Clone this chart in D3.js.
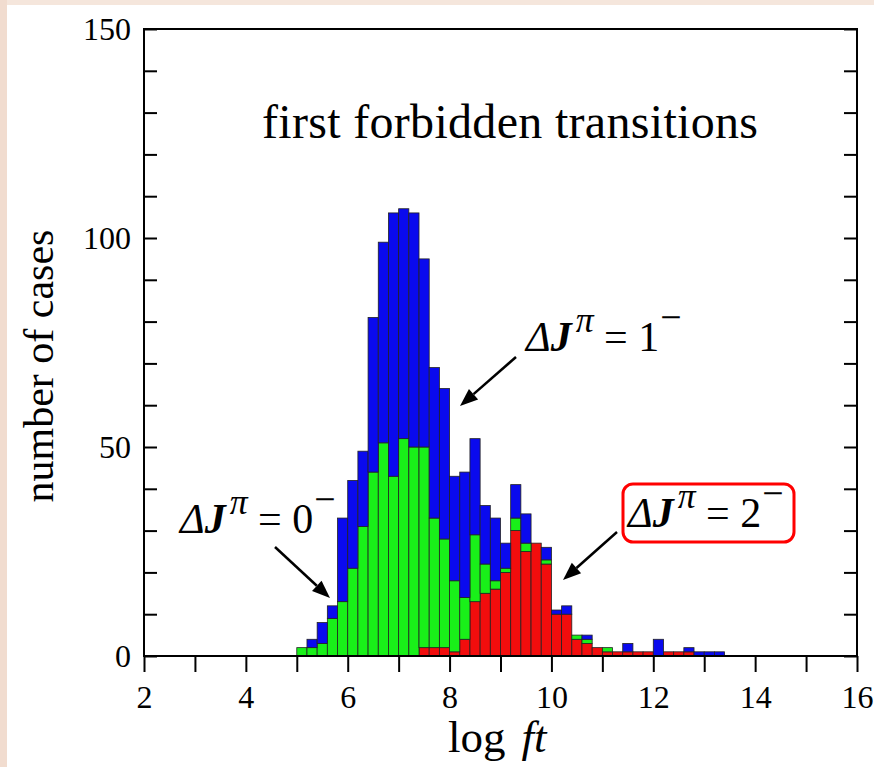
<!DOCTYPE html>
<html><head><meta charset="utf-8">
<script src="https://cdn.jsdelivr.net/npm/d3@7"></script>
<style>body{margin:0;background:#fff;} svg{display:block}</style>
</head><body>
<svg id="c" width="874" height="767"></svg>
<script>
// ---- data ----
const binStart = [5.0,5.2,5.4,5.6,5.8,6.0,6.2,6.4,6.6,6.8,7.0,7.2,7.4,7.6,7.8,8.0,8.2,8.4,8.6,8.8,
  9.0,9.2,9.4,9.6,9.8,10.0,10.2,10.4,10.6,10.8,11.0,11.2,11.4,11.6,11.8,12.0,12.2,12.4,12.6,12.8,13.0,13.2];
const binWidth = 0.2;
// ΔJπ = 2− (red, bottom)
const dj2 = [0,0,0,0,0,0,0,0,0,0,0,0,2,2,2,1,4,13,15,16,20,30,25,27,22,10,10,4,3,2,1,1,1,1,1,0,1,1,1,0,0,0];
// ΔJπ = 0− (green, middle)
const dj0 = [2,2,3,9,13,21,31,44,51,43,52,50,48,31,26,17,10,16,7,2,1,3,2,0,1,0,0,1,1,0,1,0,0,0,0,0,0,0,0,0,0,0];
// ΔJπ = 1− (blue, top)
const dj1 = [0,2,5,3,20,21,18,37,48,63,55,56,45,36,36,25,30,23,14,15,6,8,7,0,3,1,2,0,1,0,0,0,2,0,0,4,0,0,1,1,1,1];
const xTicks = [2,3,4,5,6,7,8,9,10,11,12,13,14,15,16];
const xTickLabels = [2,4,6,8,10,12,14,16];
const yTicks = [0,10,20,30,40,50,60,70,80,90,100,110,120,130,140,150];
const yTickLabels = [0,50,100,150];
const seriesKeys = ["dj2","dj0","dj1"];
const seriesColors = {dj2:"#f20d0d", dj0:"#19f019", dj1:"#0a0aee"};
const title = "first forbidden transitions";

// ---- layout ----
const svg = d3.select("#c");
const L = 144, R = 857, T = 29, B = 656;
const x = d3.scaleLinear().domain([2,16]).range([L,R]);
const y = d3.scaleLinear().domain([0,150]).range([B,T]);
const serif = "'Liberation Serif','Times New Roman',serif";

// background strips
svg.append("rect").attr("x",0).attr("y",0).attr("width",874).attr("height",767).attr("fill","#fff");
svg.append("rect").attr("x",0).attr("y",0).attr("width",874).attr("height",5).attr("fill","#f5e6dc");
svg.append("rect").attr("x",0).attr("y",0).attr("width",7).attr("height",767).attr("fill","#f1dccf");

// bars
const table = binStart.map((b,i)=>({b, dj2:dj2[i], dj0:dj0[i], dj1:dj1[i]}));
const stack = d3.stack().keys(seriesKeys)(table);
const gBars = svg.append("g");
stack.forEach(s=>{
  gBars.selectAll(null).data(s.filter(d=>d[1]-d[0]>0)).enter().append("rect")
    .attr("x", d=>x(d.data.b))
    .attr("width", d=>x(d.data.b+binWidth)-x(d.data.b))
    .attr("y", d=>y(d[1]))
    .attr("height", d=>y(d[0])-y(d[1]))
    .attr("fill", seriesColors[s.key])
    .attr("stroke","#222").attr("stroke-width",0.8);
});

// axes
const xAxis = d3.axisBottom(x).tickValues(xTicks).tickSize(16).tickPadding(13)
  .tickFormat(d=>xTickLabels.includes(d)?d:"");
const gx = svg.append("g").attr("transform",`translate(0,${B})`).call(xAxis);
const yAxis = d3.axisLeft(y).tickValues(yTicks).tickSize(-13).tickPadding(13)
  .tickFormat(d=>yTickLabels.includes(d)?d:"");
const gy = svg.append("g").attr("transform",`translate(${L},0)`).call(yAxis);
const yAxisR = d3.axisRight(y).tickValues(yTicks).tickSize(-13).tickFormat("");
const gyr = svg.append("g").attr("transform",`translate(${R},0)`).call(yAxisR);
[gx,gy,gyr].forEach(g=>{
  g.select(".domain").remove();
  g.selectAll(".tick line").attr("stroke","#000").attr("stroke-width",2);
  g.selectAll("text").attr("font-family",serif).attr("font-size",32).attr("fill","#000");
});

// frame
svg.append("rect").attr("x",L).attr("y",T).attr("width",R-L).attr("height",B-T)
  .attr("fill","none").attr("stroke","#000").attr("stroke-width",2);

// titles
svg.append("text").attr("x",510).attr("y",138).attr("text-anchor","middle")
  .attr("font-family",serif).attr("font-size",48).attr("textLength",496).text(title);
svg.append("text").attr("transform","translate(53,366) rotate(-90)").attr("text-anchor","middle")
  .attr("font-family",serif).attr("font-size",42).text("number of cases");
const xl = svg.append("text").attr("x",448).attr("y",752).attr("font-family",serif).attr("font-size",45);
xl.append("tspan").text("log");
xl.append("tspan").attr("dx",16).attr("font-style","italic").text("ft");

// annotation labels
function djLabel(x0, y0, val){
  const fs = 42;
  const t = svg.append("text").attr("x",x0).attr("y",y0).attr("font-family",serif).attr("font-size",fs);
  t.append("tspan").attr("font-style","italic").text("\u0394");
  t.append("tspan").attr("font-style","italic").attr("font-weight","bold").text("J");
  t.append("tspan").attr("font-style","italic").attr("font-size",fs*0.85).attr("dy",-fs*0.45).attr("dx",4).text("\u03c0");
  t.append("tspan").attr("dy",fs*0.45).text(" = " + val);
  t.append("tspan").attr("font-size",fs*0.9).attr("dy",-fs*0.5).attr("dx",1).text("\u2212");
  return t;
}
djLabel(526, 351, "1");
djLabel(180, 533, "0");
svg.append("rect").attr("x",623).attr("y",484).attr("width",171).attr("height",58).attr("rx",10)
  .attr("fill","none").attr("stroke","#f00").attr("stroke-width",3);
djLabel(628, 527, "2");

// arrows
function arrow(x1,y1,x2,y2){
  const ang = Math.atan2(y2-y1,x2-x1), hl = 18, hw = 7;
  const bx = x2 - hl*Math.cos(ang), by = y2 - hl*Math.sin(ang);
  svg.append("line").attr("x1",x1).attr("y1",y1).attr("x2",bx).attr("y2",by)
    .attr("stroke","#000").attr("stroke-width",2.5);
  const px = -Math.sin(ang), py = Math.cos(ang);
  svg.append("polygon").attr("points",
    `${x2},${y2} ${bx+hw*px},${by+hw*py} ${bx-hw*px},${by-hw*py}`).attr("fill","#000");
}
arrow(516,357,460,406);
arrow(275,547,330,598);
arrow(617,532,563,580);
</script>
</body></html>
